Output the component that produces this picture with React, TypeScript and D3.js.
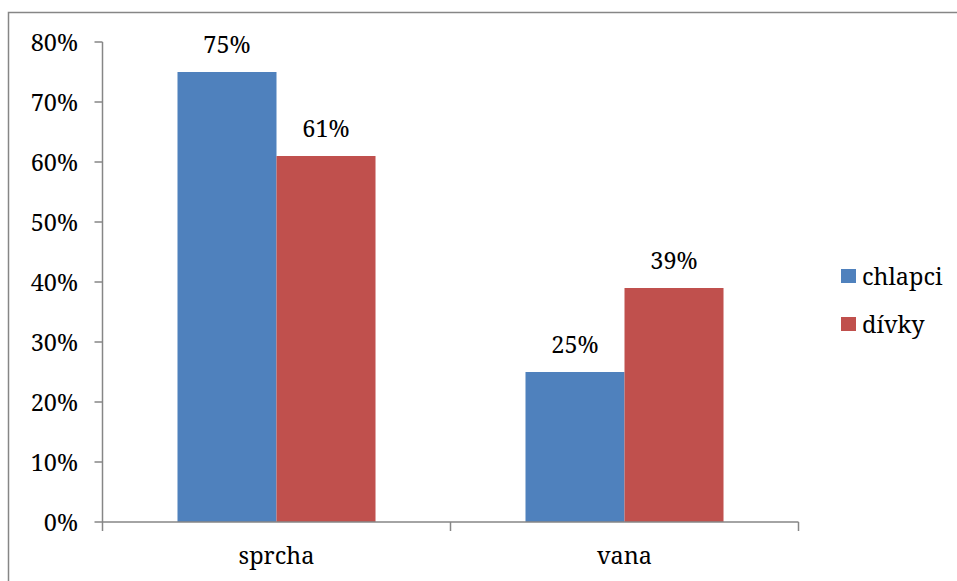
import React from "react";
import * as d3 from "d3";

const categories = ["sprcha", "vana"];
const seriesNames = ["chlapci", "dívky"];
const chlapci = [0.75, 0.25];
const divky = [0.61, 0.39];
const yTicks = [0, 0.1, 0.2, 0.3, 0.4, 0.5, 0.6, 0.7, 0.8];
const colors = ["#4F81BD", "#C0504D"];

const W = 957;
const H = 581;
const FONT = "Noto Serif";

export default function App() {
  const seriesValues = [chlapci, divky];
  const left = 102.5;
  const right = 798.5;
  const top = 42;
  const bottom = 522;
  const x = d3.scaleBand<string>().domain(categories).range([left, right]).padding(0);
  const bw = x.bandwidth();
  const inner = d3
    .scaleBand<string>()
    .domain(seriesNames)
    .range([bw * 0.2155, bw * 0.7845])
    .padding(0);
  const y = d3.scaleLinear().domain([0, 0.8]).range([bottom, top]);
  const fmt = d3.format(".0%");
  const axisColor = "#868686";
  const fs = 23.5;
  const ts: React.CSSProperties = { fontFamily: FONT, fontSize: fs, fontWeight: 400 };

  return (
    <svg
      width={W}
      height={H}
      style={{ position: "absolute", left: 0, top: 0, display: "block" }}
    >
      <rect x={0} y={0} width={W} height={H} fill="#fff" />
      <rect x={8.5} y={12.5} width={W + 20} height={H + 20} fill="none" stroke={axisColor} strokeWidth={1.5} />
      {categories.map((c, ci) =>
        seriesNames.map((s, si) => {
          const v = seriesValues[si][ci];
          const bx = (x(c) as number) + (inner(s) as number);
          return (
            <g key={c + s}>
              <rect x={bx} y={y(v)} width={inner.bandwidth()} height={bottom - y(v)} fill={colors[si]} />
              <text x={bx + inner.bandwidth() / 2} y={y(v) - 19} textAnchor="middle" style={ts} fill="#000">
                {fmt(v)}
              </text>
            </g>
          );
        })
      )}
      <line x1={left} x2={left} y1={top} y2={bottom} stroke={axisColor} strokeWidth={1.5} />
      {yTicks.map((t) => (
        <g key={t}>
          <line x1={left - 8} x2={left} y1={y(t)} y2={y(t)} stroke={axisColor} strokeWidth={1.5} />
          <text x={78} y={y(t) + 9} textAnchor="end" style={ts} fill="#000">
            {fmt(t)}
          </text>
        </g>
      ))}
      <line x1={left} x2={right} y1={bottom} y2={bottom} stroke={axisColor} strokeWidth={1.5} />
      {[left, ...categories.map((c) => (x(c) as number) + bw)].map((tx, i) => (
        <line key={i} x1={tx} x2={tx} y1={bottom} y2={bottom + 9} stroke={axisColor} strokeWidth={1.5} />
      ))}
      {categories.map((c) => (
        <text key={c} x={(x(c) as number) + bw / 2} y={564} textAnchor="middle" style={ts} fill="#000">
          {c}
        </text>
      ))}
      {seriesNames.map((s, i) => (
        <g key={s} transform={`translate(841, ${269 + i * 48})`}>
          <rect x={0} y={0} width={15} height={14} fill={colors[i]} />
          <text x={21} y={16} style={ts} fill="#000">
            {s}
          </text>
        </g>
      ))}
    </svg>
  );
}
